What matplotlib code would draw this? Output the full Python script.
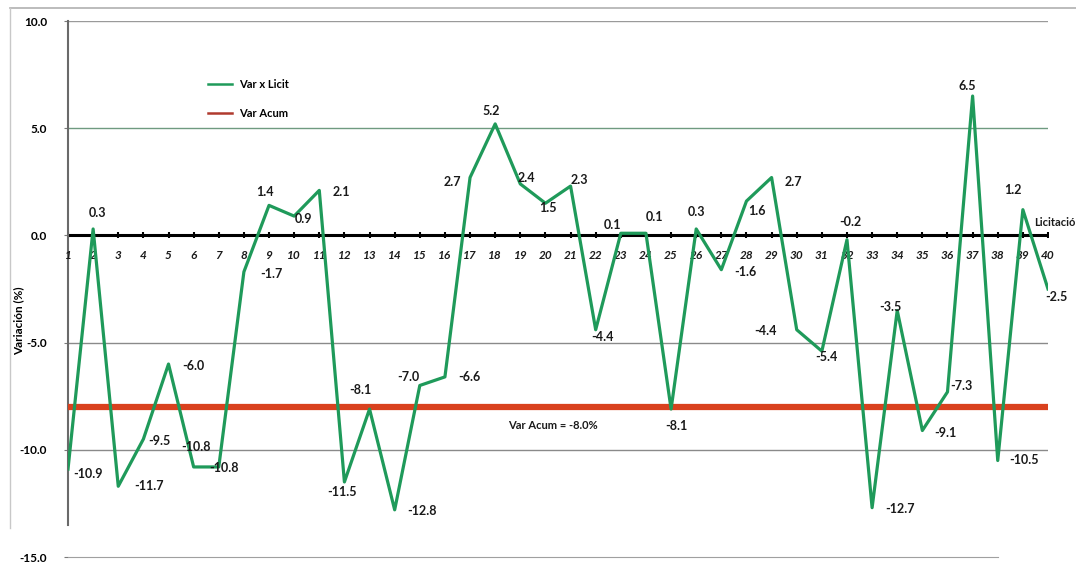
import matplotlib
matplotlib.use("Agg")
import matplotlib.pyplot as plt
from matplotlib.lines import Line2D

plt.rcParams['font.family'] = ['Lato', 'DejaVu Sans']

# datos
licitaciones = list(range(1, 41))
var_licit = [-10.9, 0.3, -11.7, -9.5, -6.0, -10.8, -10.8, -1.7, 1.4, 0.9,
             2.1, -11.5, -8.1, -12.8, -7.0, -6.6, 2.7, 5.2, 2.4, 1.5,
             2.3, -4.4, 0.1, 0.1, -8.1, 0.3, -1.6, 1.6, 2.7, -4.4,
             -5.4, -0.2, -12.7, -3.5, -9.1, -7.3, 6.5, -10.5, 1.2, -2.5]
var_acum = -8.0
etiquetas = ['-10.9', '0.3', '-11.7', '-9.5', '-6.0', '-10.8', '-10.8', '-1.7', '1.4', '0.9',
             '2.1', '-11.5', '-8.1', '-12.8', '-7.0', '-6.6', '2.7', '5.2', '2.4', '1.5',
             '2.3', '-4.4', '0.1', '0.1', '-8.1', '0.3', '-1.6', '1.6', '2.7', '-4.4',
             '-5.4', '-0.2', '-12.7', '-3.5', '-9.1', '-7.3', '6.5', '-10.5', '1.2', '-2.5']

# desplazamiento de cada etiqueta (pixeles)
offsets = [(20, -5), (4, 16), (31, 0), (16, -2), (25, -2), (2, 20), (5, -1), (27, -2),
           (-4, 13), (9, -3), (22, -2), (-2, -10), (-9, 19), (27, -1), (-11, 8), (24, 0),
           (-18, -4), (-4, 13), (6, 6), (2, -5), (9, 6), (7, -7), (-8, 8), (9, 16),
           (5, -17), (0, 17), (24, -2), (10, -10), (22, -4), (-31, -1), (5, -6), (3, 18),
           (28, -1), (-7, 3), (23, -2), (14, 6), (-5, 10), (26, 1), (-10, 20), (8, -8)]

verde = '#1f9a5a'
rojo = '#d9411e'

fig = plt.figure(figsize=(10.76, 5.66), dpi=100)
ax = fig.add_axes([68 / 1076, 1 - 557 / 566, (1048 - 68) / 1076, (557 - 21) / 566])

# marco del grafico
fig.add_artist(Line2D([10 / 1076, 1], [1 - 8 / 566, 1 - 8 / 566], color='#b0b0b0', lw=1.2))
fig.add_artist(Line2D([10 / 1076, 10 / 1076], [1 - 8 / 566, 1 - 528 / 566], color='#c8c8c8', lw=1.0))

ax.set_xlim(1, 40)
ax.set_ylim(-15, 10)

for y, c in [(10, '#9a9a9a'), (5, '#6f9a80'), (-5, '#8a8a8a'), (-10, '#8a8a8a')]:
    ax.axhline(y, color=c, lw=1.0, zorder=1)
ax.axhline(0, color='black', lw=2.2, zorder=2)
ax.plot(licitaciones, [0] * 40, ls='none', marker='|', ms=4, mew=1.5, color='black', zorder=2)

ax.axhline(var_acum, color=rojo, lw=4.5, zorder=3)
ax.plot(licitaciones, var_licit, color=verde, lw=2.3, zorder=4)

for x, y, t, (dx, dy) in zip(licitaciones, var_licit, etiquetas, offsets):
    ax.annotate(t, (x, y), xytext=(dx, dy), textcoords='offset pixels',
                ha='center', va='center', fontsize=9, fontweight='bold', color='#1a1a1a', zorder=5)

for x in licitaciones:
    ax.annotate(str(x), (x, 0), xytext=(0, -20), textcoords='offset pixels',
                ha='center', va='center', fontsize=8.5, fontweight='bold', style='italic', color='#1a1a1a')

ax.text(20.3, var_acum - 0.85, 'Var Acum = -8.0%', fontsize=8, fontweight='bold', color='#1a1a1a',
        ha='center', va='center')
ax.text(39.45, 0.6, 'Licitación', fontsize=8, fontweight='bold', color='#1a1a1a',
        ha='left', va='center', clip_on=False)

ax.set_yticks([10, 5, 0, -5, -10, -15])
ax.set_yticklabels(['10.0', '5.0', '0.0', '-5.0', '-10.0', '-15.0'], fontsize=8.5, fontweight='bold')
ax.set_xticks([])
ax.tick_params(axis='y', length=3, color='#7a7a7a', pad=12)
ax.set_ylabel('Variación (%)', fontsize=8.5, fontweight='bold', labelpad=2)
ax.yaxis.set_label_coords(-0.045, 0.44)

for s in ['top', 'right']:
    ax.spines[s].set_visible(False)
ax.spines['left'].set_color('#6a6a6a')
ax.spines['left'].set_linewidth(1.5)
ax.spines['left'].set_bounds(-13.5, 10)
ax.spines['bottom'].set_color('#a0a0a0')
ax.spines['bottom'].set_bounds(1, 38)

handles = [Line2D([], [], color=verde, lw=1.8), Line2D([], [], color='#b03a2e', lw=1.8)]
fig.legend(handles, ['Var x Licit', 'Var Acum'], loc='upper left',
           bbox_to_anchor=(208 / 1076, 1 - 79 / 566), frameon=False,
           prop={'weight': 'bold', 'size': 8}, handlelength=2.2, handletextpad=0.6,
           labelspacing=1.6, borderpad=0, borderaxespad=0)

fig.savefig('out.png', dpi=100)
